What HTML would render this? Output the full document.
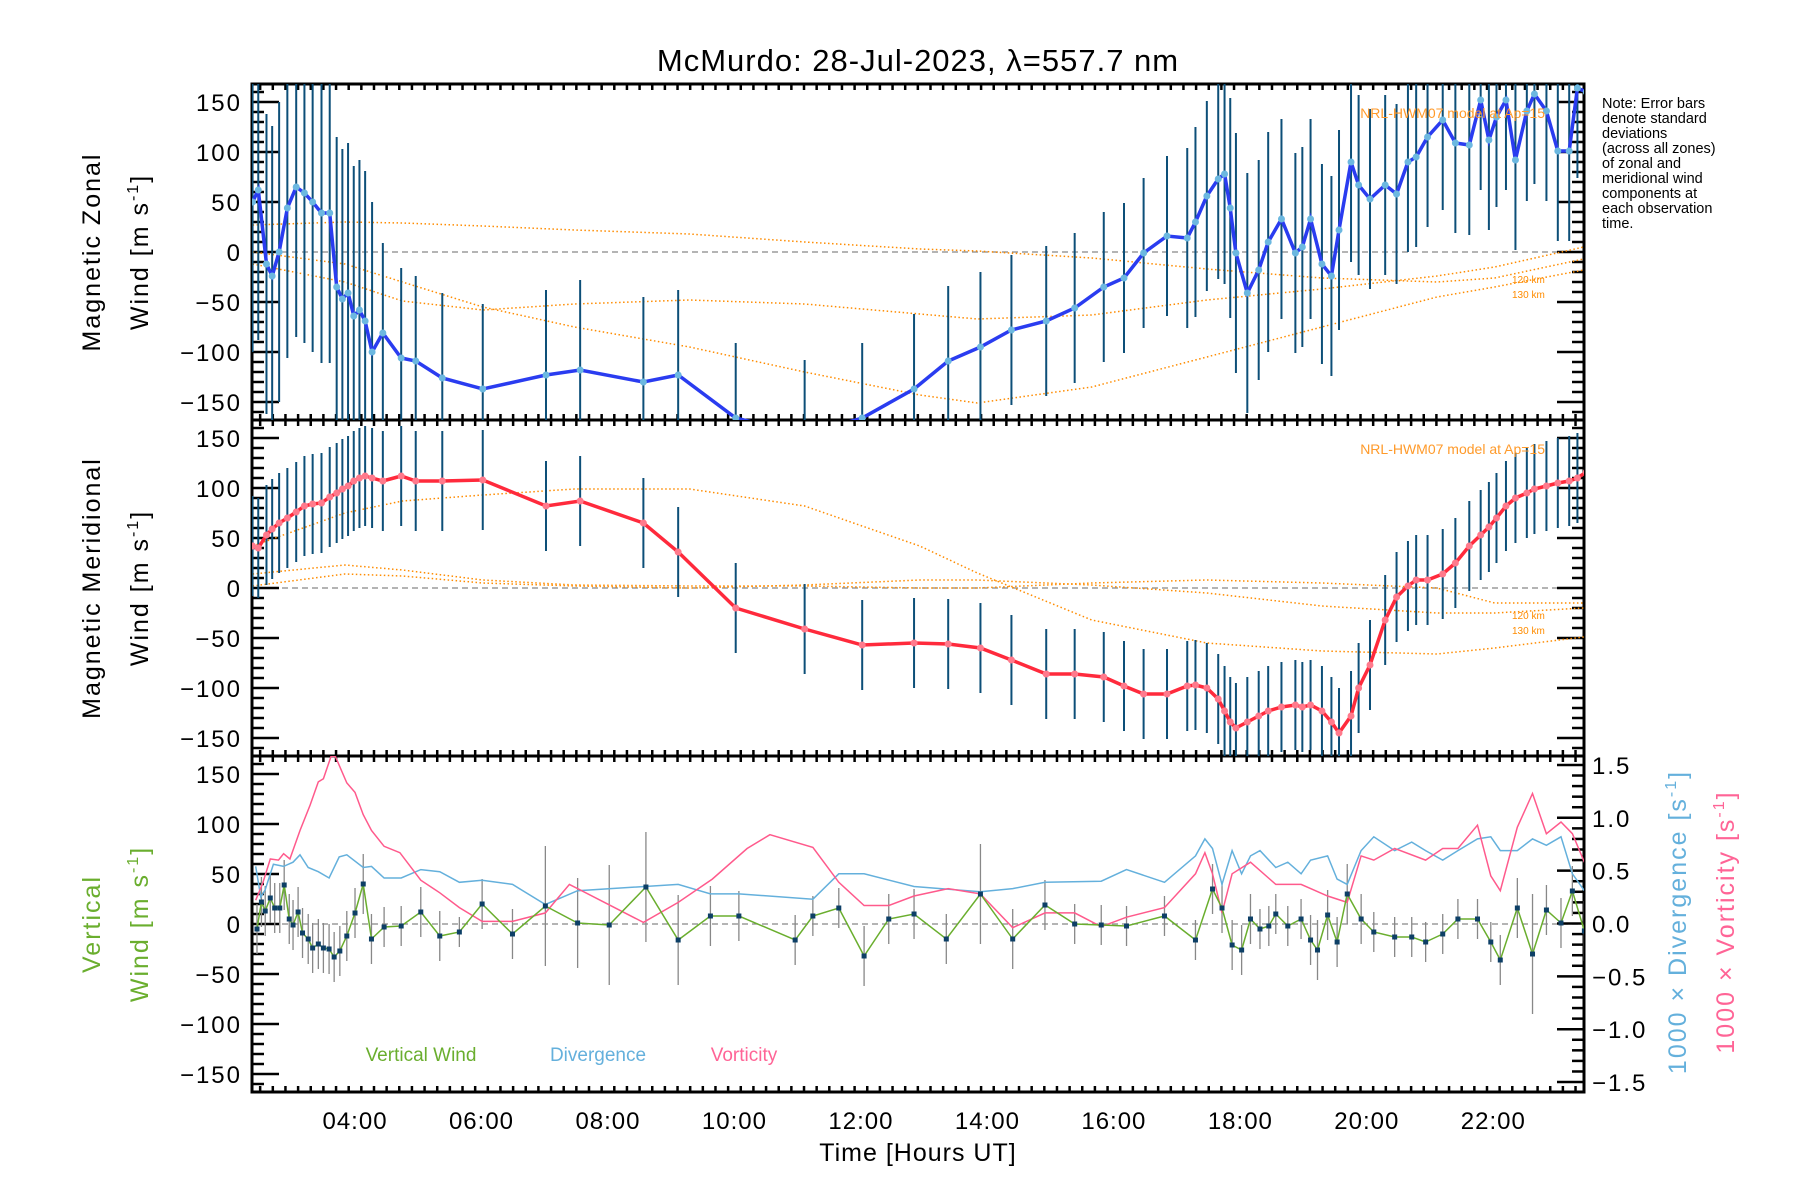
<!DOCTYPE html>
<html><head><meta charset="utf-8"><title>McMurdo winds</title>
<style>
html,body{margin:0;padding:0;background:#fff;}
svg{display:block;font-family:"Liberation Sans",sans-serif;}
</style></head>
<body>
<svg id="chart" width="1800" height="1200" viewBox="0 0 1800 1200" xmlns="http://www.w3.org/2000/svg">
<defs>
<clipPath id="c1"><rect x="252" y="84" width="1332" height="336"/></clipPath>
<clipPath id="c2"><rect x="252" y="420" width="1332" height="336"/></clipPath>
<clipPath id="c3"><rect x="252" y="756" width="1332" height="336"/></clipPath>
</defs>
<text x="918" y="71" text-anchor="middle" font-size="31" letter-spacing="1">McMurdo: 28-Jul-2023, λ=557.7 nm</text>
<g id="layer"></g>
<g font-size="14.5" fill="#000">
<text x="1602" y="108">Note: Error bars</text>
<text x="1602" y="123">denote standard</text>
<text x="1602" y="138">deviations</text>
<text x="1602" y="153">(across all zones)</text>
<text x="1602" y="168">of zonal and</text>
<text x="1602" y="183">meridional wind</text>
<text x="1602" y="198">components at</text>
<text x="1602" y="213">each observation</text>
<text x="1602" y="228">time.</text>
</g>
<text transform="translate(100,252) rotate(-90)" text-anchor="middle" font-size="25" letter-spacing="2">Magnetic Zonal</text>
<text transform="translate(148,252) rotate(-90)" text-anchor="middle" font-size="25" letter-spacing="2">Wind [m s<tspan font-size="16" dy="-10">-1</tspan><tspan dy="10">]</tspan></text>
<text transform="translate(100,588) rotate(-90)" text-anchor="middle" font-size="25" letter-spacing="2">Magnetic Meridional</text>
<text transform="translate(148,588) rotate(-90)" text-anchor="middle" font-size="25" letter-spacing="2">Wind [m s<tspan font-size="16" dy="-10">-1</tspan><tspan dy="10">]</tspan></text>
<text transform="translate(100,924) rotate(-90)" text-anchor="middle" font-size="25" letter-spacing="2" fill="#6aae2e">Vertical</text>
<text transform="translate(148,924) rotate(-90)" text-anchor="middle" font-size="25" letter-spacing="2" fill="#6aae2e">Wind [m s<tspan font-size="16" dy="-10">-1</tspan><tspan dy="10">]</tspan></text>
<text transform="translate(1686,922) rotate(-90)" text-anchor="middle" font-size="25" letter-spacing="2" fill="#64b0dc">1000 × Divergence [s<tspan font-size="16" dy="-10">-1</tspan><tspan dy="10">]</tspan></text>
<text transform="translate(1734,922) rotate(-90)" text-anchor="middle" font-size="25" letter-spacing="2" fill="#ff6496">1000 × Vorticity [s<tspan font-size="16" dy="-10">-1</tspan><tspan dy="10">]</tspan></text>
<text x="918" y="1161" text-anchor="middle" font-size="25" letter-spacing="1">Time [Hours UT]</text>
<text x="421" y="1061" text-anchor="middle" font-size="19" fill="#6aae2e">Vertical Wind</text>
<text x="598" y="1061" text-anchor="middle" font-size="19" fill="#64b0dc">Divergence</text>
<text x="744" y="1061" text-anchor="middle" font-size="19" fill="#ff6496">Vorticity</text>
<text x="1545" y="118" text-anchor="end" font-size="14" fill="#ff9a2a">NRL-HWM07 model at Ap=15</text>
<text x="1545" y="454" text-anchor="end" font-size="14" fill="#ff9a2a">NRL-HWM07 model at Ap=15</text>
<text x="1512" y="283" font-size="10" fill="#ff8c00">120 km</text>
<text x="1512" y="298" font-size="10" fill="#ff8c00">130 km</text>
<text x="1512" y="619" font-size="10" fill="#ff8c00">120 km</text>
<text x="1512" y="634" font-size="10" fill="#ff8c00">130 km</text>
</svg>
<script>
// ---- data ----
const obsTimes=[2.38,2.47,2.60,2.69,2.80,2.93,3.07,3.20,3.33,3.47,3.60,3.71,3.80,3.89,3.98,4.07,4.16,4.27,4.44,4.73,4.96,5.38,6.02,7.02,7.56,8.56,9.11,10.02,11.11,12.02,12.84,13.38,13.89,14.38,14.93,15.38,15.84,16.16,16.47,16.84,17.16,17.29,17.47,17.65,17.75,17.84,17.93,18.11,18.29,18.44,18.65,18.87,18.98,19.11,19.29,19.44,19.56,19.75,19.87,20.05,20.29,20.47,20.65,20.78,20.96,21.2,21.4,21.62,21.8,21.93,22.05,22.2,22.35,22.53,22.65,22.84,23.02,23.2,23.33,23.47];
const zonalValues=[50,62,-12,-24,0,44,65,59,50,39,39,-35,-47,-41,-64,-58,-69,-100,-81,-106,-109,-126,-137,-123,-118,-130,-123,-166,-183,-166,-137,-109,-95,-78,-69,-56,-35,-26,-1,16,14,30,56,73,78,44,-1,-41,-18,10,33,-1,5,33,-12,-24,22,90,67,53,67,58,90,95,115,132,109,107,152,112,135,152,92,141,158,141,101,101,164,160];
const zonalErr=[150,150,150,150,150,150,150,150,150,150,150,150,150,150,150,150,150,150,90,90,85,85,85,85,90,85,85,75,75,75,75,75,75,75,75,75,75,75,75,80,90,95,95,100,110,110,120,120,110,110,100,100,100,100,100,100,100,100,90,90,90,90,90,90,90,90,90,90,90,90,90,90,90,90,90,90,90,90,90,90];
const meridValues=[42,40,53,59,65,70,76,82,84,85,91,95,99,102,107,110,112,110,107,112,107,107,108,82,87,65,36,-20,-41,-57,-55,-56,-60,-72,-86,-86,-89,-98,-106,-106,-98,-97,-100,-111,-123,-134,-140,-134,-128,-123,-119,-117,-119,-117,-123,-134,-145,-128,-100,-77,-32,-9,2,8,8,14,25,42,53,61,70,82,90,95,99,102,105,107,110,116];
const meridErr=[50,50,50,50,50,50,50,50,50,50,50,50,50,50,50,50,50,50,50,50,50,50,50,45,45,45,45,45,45,45,45,45,45,45,45,45,45,45,45,45,45,45,45,45,45,45,45,45,45,45,45,45,45,45,45,45,45,45,45,45,45,45,45,45,45,45,45,45,45,45,45,45,45,45,45,45,45,45,45,45];
const vwTimes=[2.45,2.52,2.58,2.66,2.73,2.81,2.88,2.96,3.02,3.10,3.17,3.26,3.33,3.42,3.50,3.59,3.67,3.76,3.87,4.00,4.13,4.26,4.46,4.73,5.04,5.34,5.65,6.01,6.49,7.01,7.52,8.02,8.60,9.11,9.62,10.07,10.96,11.24,11.65,12.05,12.44,12.84,13.35,13.89,14.40,14.91,15.38,15.80,16.20,16.80,17.29,17.56,17.71,17.87,18.02,18.16,18.31,18.45,18.56,18.75,18.96,19.11,19.22,19.38,19.53,19.69,19.91,20.11,20.44,20.71,20.93,21.20,21.44,21.75,21.96,22.11,22.38,22.62,22.84,23.07,23.25,23.44];
const vwValues=[-5,22,13,26,16,16,39,5,-1,12,-9,-15,-24,-20,-24,-25,-33,-27,-12,11,40,-15,-3,-2,12,-12,-8,20,-10,18,1,-1,37,-16,8,8,-16,8,16,-32,5,10,-15,30,-15,19,0,-1,-2,8,-16,35,16,-21,-26,5,-5,-2,10,-2,5,-16,-26,9,-18,30,5,-8,-13,-13,-18,-10,5,5,-18,-36,16,-30,14,1,33,-7];
const vwErr=[25,25,25,25,25,25,25,25,25,25,25,25,25,25,25,25,25,25,25,25,30,25,20,20,25,25,15,25,25,60,45,60,55,45,30,25,25,20,20,30,25,25,25,50,30,25,20,20,20,20,20,25,25,25,25,25,20,20,20,20,20,25,30,25,25,30,25,20,20,20,20,20,20,20,20,25,30,60,25,25,25,30];
const divTimes=[2.43,2.51,2.58,2.71,2.87,3.02,3.13,3.26,3.42,3.59,3.75,3.87,4.13,4.26,4.46,4.73,5.04,5.34,5.65,6.01,6.49,7.01,7.52,9.11,9.62,10.07,11.24,11.65,12.05,12.84,13.89,14.40,14.91,15.80,16.20,16.80,17.29,17.44,17.56,17.71,17.87,18.02,18.16,18.31,18.56,18.75,18.96,19.11,19.38,19.53,19.69,19.91,20.11,20.44,20.71,20.93,21.20,21.44,21.75,21.96,22.11,22.38,22.62,22.84,23.07,23.25,23.44];
const divValues=[0.54,0.25,0.32,0.56,0.54,0.58,0.65,0.53,0.49,0.43,0.63,0.65,0.53,0.54,0.43,0.43,0.51,0.49,0.39,0.41,0.37,0.18,0.31,0.37,0.28,0.28,0.23,0.47,0.47,0.35,0.30,0.33,0.39,0.40,0.51,0.39,0.64,0.80,0.71,0.37,0.69,0.47,0.64,0.69,0.53,0.58,0.47,0.60,0.64,0.42,0.37,0.69,0.82,0.69,0.77,0.69,0.60,0.69,0.80,0.82,0.69,0.69,0.80,0.74,0.82,0.47,0.31];
const vortTimes=[2.43,2.54,2.66,2.79,2.87,2.97,3.13,3.29,3.42,3.50,3.62,3.69,3.87,4.00,4.13,4.26,4.46,4.71,5.04,5.34,5.65,6.01,6.49,7.01,7.39,8.56,9.11,9.65,10.20,10.56,11.24,11.65,12.05,12.44,12.84,13.38,13.89,14.40,14.91,15.38,15.80,16.20,16.80,17.29,17.44,17.56,17.71,17.87,18.16,18.56,18.96,19.38,19.69,19.91,20.11,20.44,20.93,21.20,21.44,21.75,21.96,22.11,22.38,22.62,22.84,23.07,23.25,23.44];
const vortValues=[0.22,0.38,0.61,0.60,0.66,0.61,0.88,1.12,1.34,1.37,1.58,1.58,1.33,1.24,1.03,0.88,0.73,0.67,0.41,0.29,0.15,0.02,0.02,0.10,0.37,0.01,0.20,0.42,0.71,0.84,0.72,0.39,0.17,0.17,0.26,0.33,0.28,-0.04,0.10,0.10,-0.03,0.06,0.15,0.47,0.67,0.47,0.10,0.47,0.58,0.37,0.37,0.26,0.20,0.64,0.60,0.71,0.60,0.71,0.71,0.93,0.45,0.31,0.91,1.23,0.85,0.96,0.85,0.58];
const modelTimes=[2.38,3.84,4.75,6.02,7.47,9.29,11.11,12.93,13.84,15.65,17.47,19.29,21.11,22.02,23.43];
const zonalModelA=[27,30,29,26,22,18,10,3,1,-6,-17,-26,-30,-26,-7];
const zonalModelB=[-12,-30,-49,-58,-52,-48,-52,-62,-67,-63,-48,-37,-24,-15,5];
const zonalModelC=[0,-12,-30,-55,-75,-95,-120,-143,-151,-135,-105,-75,-45,-35,-18];
const meridModelA=[42,75,87,93,99,99,82,42,15,-32,-55,-63,-66,-60,-49];
const meridModelB=[2,14,12,5,2,0,3,8,8,3,-5,-18,-25,-25,-20];
const meridModelC=[14,23,18,8,3,2,2,0,0,5,8,5,0,-15,-15];
const yTicks=[-150,-100,-50,0,50,100,150];
const rTicks=[-1.5,-1.0,-0.5,0.0,0.5,1.0,1.5];
const xTickHours=[4,6,8,10,12,14,16,18,20,22];

// ---- axes ----
const X0=252,X1=1584,T0=2.371,T1=23.434;
const panels=[{top:84,bot:420},{top:420,bot:756},{top:756,bot:1092}];
const x=t=>X0+(t-T0)/(T1-T0)*(X1-X0);
const y=(p,v)=>{const P=panels[p];return (P.top+P.bot)/2 - v*(P.bot-P.top)/336;};
const yr=v=>923.5 - v*105.7;
const NS='http://www.w3.org/2000/svg';
const layer=document.getElementById('layer');
function mk(tag,attrs,parent){const e=document.createElementNS(NS,tag);for(const k in attrs)e.setAttribute(k,attrs[k]);(parent||layer).appendChild(e);return e;}
function fmt(h){return (h<10?'0':'')+h+':00';}

for(let p=0;p<3;p++){
  const g=mk('g',{});
  
  
  const P=panels[p];
  mk('line',{x1:X0,x2:X1,y1:y(p,0),y2:y(p,0),stroke:'#888','stroke-width':1.2,'stroke-dasharray':'6,4'},g);
  // y ticks
  for(let v=-160;v<=160;v+=10){
    const yy=y(p,v); const major=(v%50===0);
    const L=major?27:12;
    mk('line',{x1:X0,x2:X0+L,y1:yy,y2:yy,stroke:'#000','stroke-width':2.5},g);
    if(p<2) mk('line',{x1:X1,x2:X1-L,y1:yy,y2:yy,stroke:'#000','stroke-width':2.5},g);
  }
  yTicks.forEach(v=>{
    const t=mk('text',{x:X0-10,y:y(p,v)+9,'text-anchor':'end','font-size':24,'letter-spacing':2},g);
    
    
    t.textContent=(v<0?'\u2212':'')+Math.abs(v);
  });
  // x ticks
  for(let m=2*60+30;m<=23*60+30;m+=12){
    const t=m/60; if(t<T0||t>T1) continue;
    const major=(m%120===0);
    const L=major?14:6;
    mk('line',{x1:x(t),x2:x(t),y1:P.top,y2:P.top+L,stroke:'#000','stroke-width':2.5},g);
    mk('line',{x1:x(t),x2:x(t),y1:P.bot,y2:P.bot-L,stroke:'#000','stroke-width':2.5},g);
  }
  mk('rect',{x:X0,y:P.top,width:X1-X0,height:P.bot-P.top,fill:'none',stroke:'#000','stroke-width':3},g);
}
// right axis panel 3
for(let v=-1.5;v<=1.55;v+=0.1){
  const vv=Math.round(v*10)/10; const major=Math.abs(Math.round(vv*10)%5)===0;
  mk('line',{x1:X1,x2:X1-(major?27:12),y1:yr(vv),y2:yr(vv),stroke:'#000','stroke-width':2.5});
}
rTicks.forEach(v=>{
  const t=mk('text',{x:X1+8,y:yr(v)+9,'font-size':24,'letter-spacing':2});
  
  
  t.textContent=(v<0?'\u2212':'')+Math.abs(v).toFixed(1);
});
xTickHours.forEach(h=>{
  const t=mk('text',{x:x(h),y:1129,'text-anchor':'middle','font-size':24,'letter-spacing':1});
  
  
  t.textContent=fmt(h);
});

function poly(p,ts,vs,attrs,name,clip){
  const pts=ts.map((t,i)=>x(t).toFixed(1)+','+(p===3?yr(vs[i]):y(p,vs[i])).toFixed(1)).join(' ');
  const e=mk('polyline',Object.assign({points:pts,fill:'none','clip-path':'url(#'+clip+')'},attrs));
  
  
  return e;
}
// model curves
[[0,zonalModelA,'zonal-model-a'],[0,zonalModelB,'zonal-model-120km'],[0,zonalModelC,'zonal-model-130km'],
 [1,meridModelA,'meridional-model-a'],[1,meridModelB,'meridional-model-120km'],[1,meridModelC,'meridional-model-130km']].forEach(([p,vals,n])=>{
  poly(p,modelTimes,vals,{stroke:'#ff8c00','stroke-width':1.5,'stroke-dasharray':'1.5,2.5'},n,'c'+(p+1));
});
// error bars
function errbars(p,ts,vs,es,color,w,name){
  const g=mk('g',{'clip-path':'url(#c'+(p+1)+')'});
  
  
  ts.forEach((t,i)=>mk('line',{x1:x(t),x2:x(t),y1:y(p,vs[i]-es[i]),y2:y(p,vs[i]+es[i]),stroke:color,'stroke-width':w},g));
}
errbars(0,obsTimes,zonalValues,zonalErr,'#0d4f78',2,'zonal-error-bars');
errbars(1,obsTimes,meridValues,meridErr,'#0d4f78',2,'meridional-error-bars');
errbars(2,vwTimes,vwValues,vwErr,'#888',1.3,'vertical-error-bars');
// main series
poly(0,obsTimes,zonalValues,{stroke:'#2a3cf0','stroke-width':3.5},'zonal-wind-line','c1');
poly(1,obsTimes,meridValues,{stroke:'#ff2a3c','stroke-width':3.5},'meridional-wind-line','c2');
const mg1=mk('g',{'clip-path':'url(#c1)'});


obsTimes.forEach((t,i)=>mk('circle',{cx:x(t),cy:y(0,zonalValues[i]),r:3.5,fill:'#6cb8e0'},mg1));
const mg2=mk('g',{'clip-path':'url(#c2)'});


obsTimes.forEach((t,i)=>mk('circle',{cx:x(t),cy:y(1,meridValues[i]),r:3.5,fill:'#ff7a8c'},mg2));
poly(3,divTimes,divValues,{stroke:'#64b0dc','stroke-width':1.5},'divergence-line','c3');
poly(3,vortTimes,vortValues,{stroke:'#ff5a8c','stroke-width':1.5},'vorticity-line','c3');
poly(2,vwTimes,vwValues,{stroke:'#6aae2e','stroke-width':1.5},'vertical-wind-line','c3');
const mg3=mk('g',{'clip-path':'url(#c3)'});


vwTimes.forEach((t,i)=>mk('rect',{x:x(t)-2.5,y:y(2,vwValues[i])-2.5,width:5,height:5,fill:'#0d3f66'},mg3));
</script>
</body></html>
